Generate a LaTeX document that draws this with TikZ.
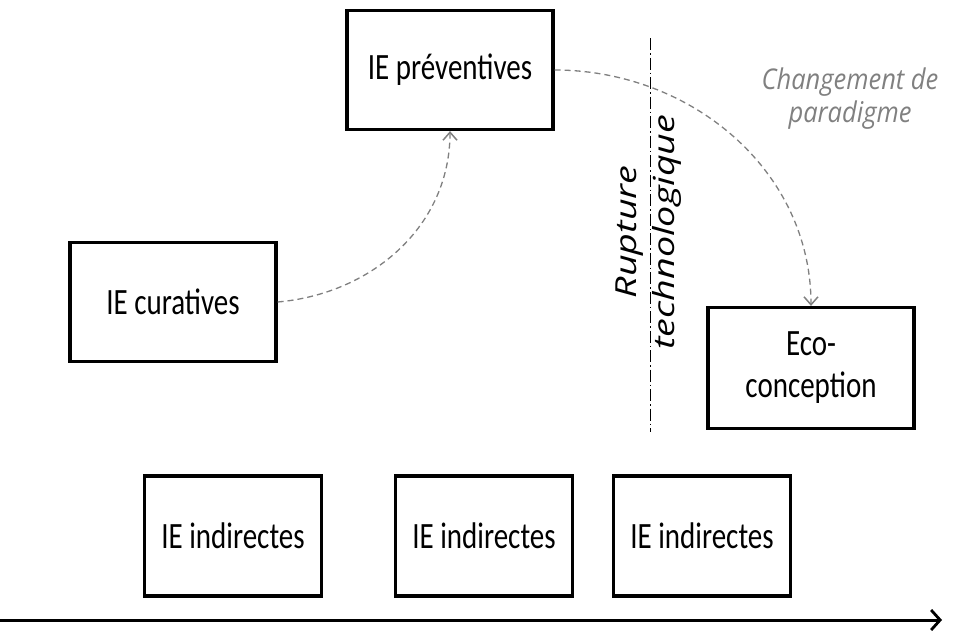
\documentclass[tikz,border=0pt]{standalone}
\usepackage{fontspec}
\setmainfont{Carlito}
\newfontfamily\labelfont{Open Sans}
\usepackage{tikz}
\usetikzlibrary{arrows.meta}
\newcommand{\tallt}[1]{\scalebox{1}[1.28]{#1}}
\newcommand{\longt}[1]{\scalebox{1.3}[1]{#1}}

\begin{document}
\begin{tikzpicture}[x=1pt,y=-1pt,
		box/.style={draw,line width=3.2pt,minimum width=206pt,minimum height=119pt,
			font=\fontsize{29}{42}\selectfont,align=center},
		smallbox/.style={box,minimum width=177pt,minimum height=120pt},
		link/.style={draw=gray,line width=1.3pt,dash pattern=on 6pt off 4pt,
			-{Straight Barb[length=8pt,width=14pt,line width=1.5pt]}}]
		\useasboundingbox (0,0) rectangle (955,630);
		% boxes
		\node[box] (prev) at (450,70) {\tallt{IE préventives}};
		\node[box] (cur) at (173,302) {\tallt{IE curatives}};
		\node[box,minimum height=121pt] (eco) at (811,368) {\tallt{Eco-}\\\tallt{conception}};
		\node[smallbox] (ind1) at (233,536) {\tallt{IE indirectes}};
		\node[smallbox] (ind2) at (484,536) {\tallt{IE indirectes}};
		\node[smallbox] (ind3) at (702,536) {\tallt{IE indirectes}};
		% rupture
		\coordinate (rtop) at (650,38);
		\coordinate (rbot) at (650,432);
		\draw[line width=1pt,dash pattern=on 12pt off 3pt on 1.5pt off 3pt] (rtop) -- (rbot);
		\node[rotate=90,align=center,font=\labelfont\itshape\fontsize{29}{38}\selectfont]
			(rupt) at (649,232) {\longt{Rupture}\\\longt{technologique}};
		\node[align=center,text=gray,font=\labelfont\itshape\fontsize{25.5}{33}\selectfont]
			(chg) at (850,99) {\scalebox{1}[1.12]{Changement de}\\\scalebox{1}[1.12]{paradigme}};
		% links
		\draw[link] (cur.east) to[out=5,in=-90] (prev.south);
		\draw[link] (prev.east) to[out=0,in=90] (eco.north);
		% time axis
		\coordinate (tstart) at (0,620);
		\coordinate (tend) at (942,620);
		\draw[line width=3pt,-{Straight Barb[length=9pt,width=20pt,line width=2.8pt]}] (tstart) -- (tend);
\end{tikzpicture}
\end{document}
